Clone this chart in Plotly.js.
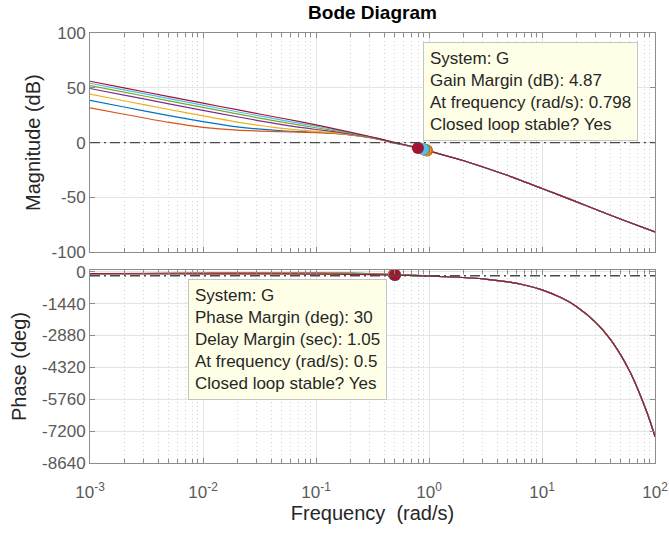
<!DOCTYPE html>
<html>
<head>
<meta charset="utf-8">
<script src="https://cdn.plot.ly/plotly-3.0.1.min.js"></script>
<style>html,body{margin:0;padding:0;background:#fff;}#chart{width:669px;height:533px;}</style>
</head>
<body>
<div id="chart"></div>
<script>
// ---------------- data ----------------
const seriesNames = ['G1', 'G2', 'G3', 'G4', 'G5', 'G6', 'G'];
const seriesColors = ['#0072BD', '#D95319', '#EDB120', '#7E2F8E', '#77AC30', '#4DBEEE', '#A2142F'];

// magnitude (dB)
const magFreqLow = [0.001, 0.002, 0.005, 0.01, 0.02, 0.05, 0.1, 0.15, 0.2, 0.3, 0.4, 0.5, 0.65, 0.8];
const magFreqHigh = [1, 2, 3, 5, 10, 20, 30, 50, 100];
const magLowBlue   = [38.5, 32.5, 24.65, 19.1, 14.4, 10.85, 9.4, 8.4, 7.1, 4.6, 2.1, -0.4, -2.85, -5.0];
const magLowOrange = [31.8, 25.9, 18.45, 14.0, 11.4, 9.97, 9.1, 8.2, 7.0, 4.5, 2.0, -0.5, -2.9, -5.0];
const magLowYellow = [44.2, 38.2, 30.25, 24.35, 18.8, 12.96, 10.2, 8.9, 7.4, 4.8, 2.2, -0.3, -2.8, -5.0];
const magLowPurple = [49.4, 43.4, 35.4, 29.45, 23.6, 16.4, 12.0, 9.9, 8.0, 5.0, 2.3, -0.2, -2.75, -4.95];
const magLowGreen  = [52.1, 46.1, 38.1, 32.15, 26.2, 18.7, 13.6, 10.8, 8.6, 5.2, 2.4, -0.1, -2.7, -4.92];
const magLowLBlue  = [54.2, 48.2, 40.2, 34.2, 28.2, 20.6, 15.0, 11.6, 9.1, 5.4, 2.5, -0.05, -2.65, -4.9];
const magLowRed    = [56.0, 50.0, 42.0, 36.0, 30.05, 22.25, 16.2, 12.4, 9.6, 5.6, 2.6, 0.0, -2.6, -4.87];
const magTail = [-7.6, -16.3, -22.2, -30.0, -41.8, -53.8, -61.0, -69.8, -81.5];

// phase (deg)
const phaseFreqLow = [0.001, 0.003, 0.01, 0.03, 0.1, 0.2, 0.3, 0.5, 0.8];
const phaseFreqHigh = [1, 2, 3, 5, 7, 10, 15, 20, 30, 40, 50, 60, 70, 80, 90, 100];
const phaseLowBlue   = [-88, -80, -62, -45, -45, -65, -85, -122, -167];
const phaseLowOrange = [-85, -70, -50, -35, -40, -60, -80, -118, -165];
const phaseLowYellow = [-89, -85, -72, -58, -58, -75, -92, -128, -170];
const phaseLowPurple = [-90, -88, -82, -75, -75, -90, -105, -136, -173];
const phaseLowGreen  = [-90, -89, -86, -83, -86, -100, -115, -140, -175];
const phaseLowLBlue  = [-90, -90, -90, -90, -96, -112, -125, -145, -177];
const phaseLowRed    = [-90, -91, -93, -96, -104, -120, -133, -150, -180];
const phaseTail = [-195, -260, -320, -460, -600, -823, -1190, -1560, -2300, -3030, -3780, -4520, -5270, -6010, -6720, -7450];

// stability margin markers
const gmFreq = [0.95, 0.96, 0.93, 0.91, 0.90, 0.88, 0.798];
const gmMag = [-6.95, -7.1, -6.6, -6.3, -6.2, -5.9, -4.87];
const pmFreq = [0.49, 0.49, 0.495, 0.495, 0.5, 0.5, 0.5];
const pmPhase = [-122, -118, -128, -136, -140, -145, -150];

// tick labels
const freqTickVals = [0.001, 0.01, 0.1, 1, 10, 100];
const freqTickText = ['10<sup>-3</sup>', '10<sup>-2</sup>', '10<sup>-1</sup>', '10<sup>0</sup>', '10<sup>1</sup>', '10<sup>2</sup>'];
const magTickVals = [-100, -50, 0, 50, 100];
const magTickText = ['-100', '-50', '0', '50', '100'];
const phaseTickVals = [-8640, -7200, -5760, -4320, -2880, -1440, 0];
const phaseTickText = ['-8640', '-7200', '-5760', '-4320', '-2880', '-1440', '0'];

// data tips
const gmTipLines = ['System: G', 'Gain Margin (dB): 4.87', 'At frequency (rad/s): 0.798', 'Closed loop stable? Yes'];
const pmTipLines = ['System: G', 'Phase Margin (deg): 30', 'Delay Margin (sec): 1.05', 'At frequency (rad/s): 0.5', 'Closed loop stable? Yes'];

// ---------------- build the figure ----------------
const magLows = [magLowBlue, magLowOrange, magLowYellow, magLowPurple, magLowGreen, magLowLBlue, magLowRed];
const phaseLows = [phaseLowBlue, phaseLowOrange, phaseLowYellow, phaseLowPurple, phaseLowGreen, phaseLowLBlue, phaseLowRed];

const traces = [];
seriesNames.forEach((name, i) => {
  traces.push({
    type: 'scatter', mode: 'lines', name: name,
    x: magFreqLow.concat(magFreqHigh), y: magLows[i].concat(magTail),
    xaxis: 'x', yaxis: 'y',
    line: {color: seriesColors[i], width: 1.2, shape: 'spline', smoothing: 0.6},
    hoverinfo: 'skip'
  });
});
seriesNames.forEach((name, i) => {
  traces.push({
    type: 'scatter', mode: 'lines', name: name,
    x: phaseFreqLow.concat(phaseFreqHigh), y: phaseLows[i].concat(phaseTail),
    xaxis: 'x2', yaxis: 'y2',
    line: {color: seriesColors[i], width: 1.2, shape: 'spline', smoothing: 0.6},
    hoverinfo: 'skip'
  });
});
seriesNames.forEach((name, i) => {
  traces.push({
    type: 'scatter', mode: 'markers', name: name + ' GM',
    x: [gmFreq[i]], y: [gmMag[i]], xaxis: 'x', yaxis: 'y',
    marker: {color: seriesColors[i], size: 12, line: {width: 0}},
    hoverinfo: 'skip'
  });
  traces.push({
    type: 'scatter', mode: 'markers', name: name + ' PM',
    x: [pmFreq[i]], y: [pmPhase[i]], xaxis: 'x2', yaxis: 'y2',
    marker: {color: seriesColors[i], size: 12, line: {width: 0}},
    hoverinfo: 'skip'
  });
});

const FONT = '"Liberation Sans", Arial, Helvetica, sans-serif';
const AX_COLOR = '#8c8c8c';
const TICK_FONT = {family: FONT, size: 17, color: '#5a5a5a'};
const TITLE_FONT = {family: FONT, size: 20, color: '#262626'};

const baseAxis = {
  showline: true, linecolor: AX_COLOR, linewidth: 1, mirror: 'ticks',
  ticks: 'inside', ticklen: 5, tickcolor: AX_COLOR, tickwidth: 1,
  showgrid: true, gridcolor: '#e4e4e4', gridwidth: 1, zeroline: false,
  tickfont: TICK_FONT, fixedrange: true
};
const logAxis = Object.assign({}, baseAxis, {
  type: 'log', range: [-3, 2], tickmode: 'array', tickvals: freqTickVals, ticktext: freqTickText,
  minor: {dtick: 'D1', ticks: 'inside', ticklen: 4, tickcolor: AX_COLOR, showgrid: true,
          gridcolor: '#d2d2d2', griddash: '1px,3px', gridwidth: 1}
});

const layout = {
  width: 669, height: 533,
  margin: {l: 90, r: 14, t: 33, b: 70},
  paper_bgcolor: '#ffffff', plot_bgcolor: '#ffffff',
  showlegend: false,
  font: {family: FONT, size: 17, color: '#262626'},
  title: {
    text: '<b>Bode Diagram</b>', font: {family: FONT, size: 19, color: '#000000'},
    x: 0.5, xref: 'paper', xanchor: 'center', y: 1 - 12 / 533, yref: 'container', yanchor: 'middle'
  },
  xaxis: Object.assign({}, logAxis, {anchor: 'y', showticklabels: false}),
  yaxis: Object.assign({}, baseAxis, {
    anchor: 'x', domain: [0.49, 1], range: [-100, 100], tickmode: 'array',
    tickvals: magTickVals, ticktext: magTickText,
    title: {text: 'Magnitude (dB)', font: TITLE_FONT}
  }),
  xaxis2: Object.assign({}, logAxis, {
    anchor: 'y2', ticklabelstandoff: 14,
    title: {text: 'Frequency\u00a0 (rad/s)', font: TITLE_FONT, standoff: 2}
  }),
  yaxis2: Object.assign({}, baseAxis, {
    anchor: 'x2', domain: [0, 0.4488], range: [-8640, 77], tickmode: 'array',
    tickvals: phaseTickVals, ticktext: phaseTickText,
    title: {text: 'Phase (deg)', font: TITLE_FONT, standoff: 10}
  }),
  shapes: [
    {type: 'line', layer: 'above', xref: 'x domain', x0: 0, x1: 1, yref: 'y', y0: 0, y1: 0,
     line: {color: '#4a4a4a', width: 1.3, dash: '10px,4px,2px,4px'}},
    {type: 'line', layer: 'above', xref: 'x2 domain', x0: 0, x1: 1, yref: 'y2', y0: -180, y1: -180,
     line: {color: '#4a4a4a', width: 1.5, dash: '10px,4px,2px,4px'}}
  ],
  annotations: [
    {xref: 'x domain', yref: 'y domain', x: 0.589, y: 0.957, xanchor: 'left', yanchor: 'top',
     align: 'left', showarrow: false, text: gmTipLines.join('<br>'),
     bgcolor: '#FFFFE8', bordercolor: '#c4c4c4', borderwidth: 1, borderpad: 6,
     font: {family: FONT, size: 17, color: '#262626'}},
    {xref: 'x2 domain', yref: 'y2 domain', x: 0.1735, y: 0.953, xanchor: 'left', yanchor: 'top',
     align: 'left', showarrow: false, text: pmTipLines.join('<br>'),
     bgcolor: '#FFFFE8', bordercolor: '#c4c4c4', borderwidth: 1, borderpad: 6,
     font: {family: FONT, size: 17, color: '#262626'}}
  ]
};

Plotly.newPlot('chart', traces, layout, {displayModeBar: false, staticPlot: true});
</script>
</body>
</html>
